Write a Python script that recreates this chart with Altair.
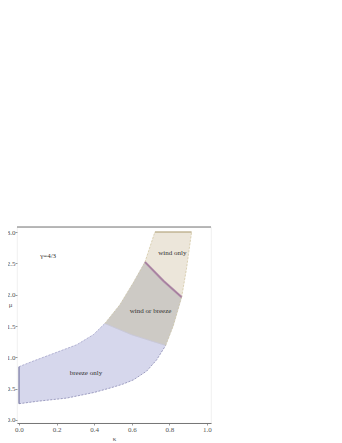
import altair as alt
import pandas as pd

# ---- boundary curves (kappa, mu) ----
lower_x = [0.0, 0.10, 0.254, 0.40, 0.484, 0.55, 0.608, 0.679, 0.732, 0.78]
lower_y = [0.26, 0.30, 0.35, 0.44, 0.51, 0.57, 0.64, 0.78, 0.96, 1.19]
upper_x = [0.0, 0.076, 0.165, 0.307, 0.395, 0.457]
upper_y = [0.85, 0.94, 1.04, 1.20, 1.36, 1.54]
grayleft_x = [0.457, 0.537, 0.608, 0.67]
grayleft_y = [1.54, 1.84, 2.19, 2.52]
windleft_x = [0.67, 0.723]
windleft_y = [2.52, 3.0]
bg_x = [0.457, 0.60, 0.78]
bg_y = [1.54, 1.36, 1.19]
grayright_x = [0.78, 0.82, 0.865]
grayright_y = [1.19, 1.50, 1.96]
gw_x = [0.67, 0.768, 0.865]
gw_y = [2.52, 2.22, 1.96]
windright_x = [0.865, 0.89, 0.918]
windright_y = [1.96, 2.40, 3.0]
top_x = [0.723, 0.918]
top_y = [3.0, 3.0]
left_x = [0.0, 0.0]
left_y = [0.26, 0.85]

label_text = ["γ=4/3", "wind only", "wind or breeze", "breeze only"]
label_x = [0.155, 0.816, 0.70, 0.356]
label_y = [2.62, 2.66, 1.745, 0.745]

x_ticks = [0.0, 0.2, 0.4, 0.6, 0.8, 1.0]
y_ticks = [0.0, 0.5, 1.0, 1.5, 2.0, 2.5, 3.0]

X_DOM = [-0.0106, 1.0213]
Y_DOM = [-0.048, 3.08]


def seq(*parts):
    xs, ys = [], []
    for px, py, rev in parts:
        if rev:
            px, py = px[::-1], py[::-1]
        xs += list(px)
        ys += list(py)
    return pd.DataFrame({"k": xs, "m": ys, "o": range(len(xs))})


breeze = seq((lower_x, lower_y, False), (bg_x, bg_y, True), (upper_x, upper_y, True))
gray = seq((bg_x, bg_y, False), (grayright_x, grayright_y, False), (gw_x, gw_y, True),
           (grayleft_x, grayleft_y, True))
wind = seq((gw_x, gw_y, False), (windright_x, windright_y, False), (top_x, top_y, True),
           (windleft_x, windleft_y, True))

xs = alt.Scale(domain=X_DOM, nice=False, zero=False)
ys = alt.Scale(domain=Y_DOM, nice=False, zero=False)

SERIF = "Liberation Serif"

X_AXIS = alt.Axis(values=x_ticks, format=".1f", labelFont=SERIF,
                  labelFontSize=7, labelColor="#555", tickSize=2,
                  tickColor="#999", labelPadding=0, domainColor="#777",
                  labelOverlap=False, labelFlush=False,
                  grid=False, titleFont=SERIF, titleFontSize=7,
                  titleFontWeight="normal", titleColor="#555",
                  titlePadding=2)
Y_AXIS = alt.Axis(values=y_ticks, format=".1f", labelFont=SERIF,
                  labelFontSize=7, labelColor="#555", tickSize=2,
                  tickColor="#999", labelPadding=0, domain=False,
                  labelOverlap=False, labelFlush=False,
                  grid=False, titleFont=SERIF, titleFontSize=7,
                  titleFontWeight="normal", titleColor="#555",
                  titleAngle=0, titleX=-7, titleY=80,
                  titleAlign="center")


def enc(ch, with_order=True):
    kw = dict(
        x=alt.X("k:Q", scale=xs, title="κ", axis=X_AXIS),
        y=alt.Y("m:Q", scale=ys, title="μ", axis=Y_AXIS),
    )
    if with_order:
        kw["order"] = "o:Q"
    return ch.encode(**kw)


fill_b = enc(alt.Chart(breeze).mark_line(fill="#d6d7ec", stroke="#d6d7ec", strokeWidth=0.5))
fill_g = enc(alt.Chart(gray).mark_line(fill="#cdcac5", stroke="#cdcac5", strokeWidth=0.5))
fill_w = enc(alt.Chart(wind).mark_line(fill="#ece6da", stroke="#ece6da", strokeWidth=0.5))


def line(px, py, color, width, dash=None):
    df = seq((px, py, False))
    kw = dict(color=color, strokeWidth=width)
    if dash:
        kw["strokeDash"] = dash
    return enc(alt.Chart(df).mark_line(**kw))


lines = [
    line(lower_x, lower_y, "#7f80aa", 0.7, [2, 1.5]),
    line(upper_x, upper_y, "#9d9ec4", 0.7, [2, 1.5]),
    line(left_x, left_y, "#5c5d8e", 1.0),
    line(bg_x, bg_y, "#c4c4dc", 0.7),
    line(grayleft_x, grayleft_y, "#c9c09a", 0.6, [2, 1.5]),
    line(grayright_x, grayright_y, "#c9c09a", 0.6, [2, 1.5]),
    line(windleft_x, windleft_y, "#cbbd92", 0.6, [2, 1.5]),
    line(windright_x, windright_y, "#cbbd92", 0.6, [2, 1.5]),
    line(top_x, top_y, "#a99a6e", 1.2),
    line(gw_x, gw_y, "#b590ad", 2.2),
    line(gw_x, gw_y, "#8f6b8a", 0.6),
]

labels = enc(alt.Chart(pd.DataFrame({"t": label_text, "k": label_x, "m": label_y})).mark_text(
    font=SERIF, fontSize=7, color="#333"
), with_order=False).encode(text="t:N")

top_rule = alt.Chart(pd.DataFrame({"m": [Y_DOM[1]]})).mark_rule(color="#777", strokeWidth=1).encode(
    y=alt.Y("m:Q", scale=ys, title="μ", axis=Y_AXIS)
)

chart = alt.layer(fill_b, fill_g, fill_w, *lines, labels, top_rule).properties(
    width=194, height=196,
    autosize=alt.AutoSizeParams(type="none"),
    padding={"left": 9, "top": 219, "right": 10, "bottom": 18},
).configure_view(stroke="#ececec", strokeWidth=0.8)

chart.save("out.html", embed_options={"renderer": "svg", "actions": False})
